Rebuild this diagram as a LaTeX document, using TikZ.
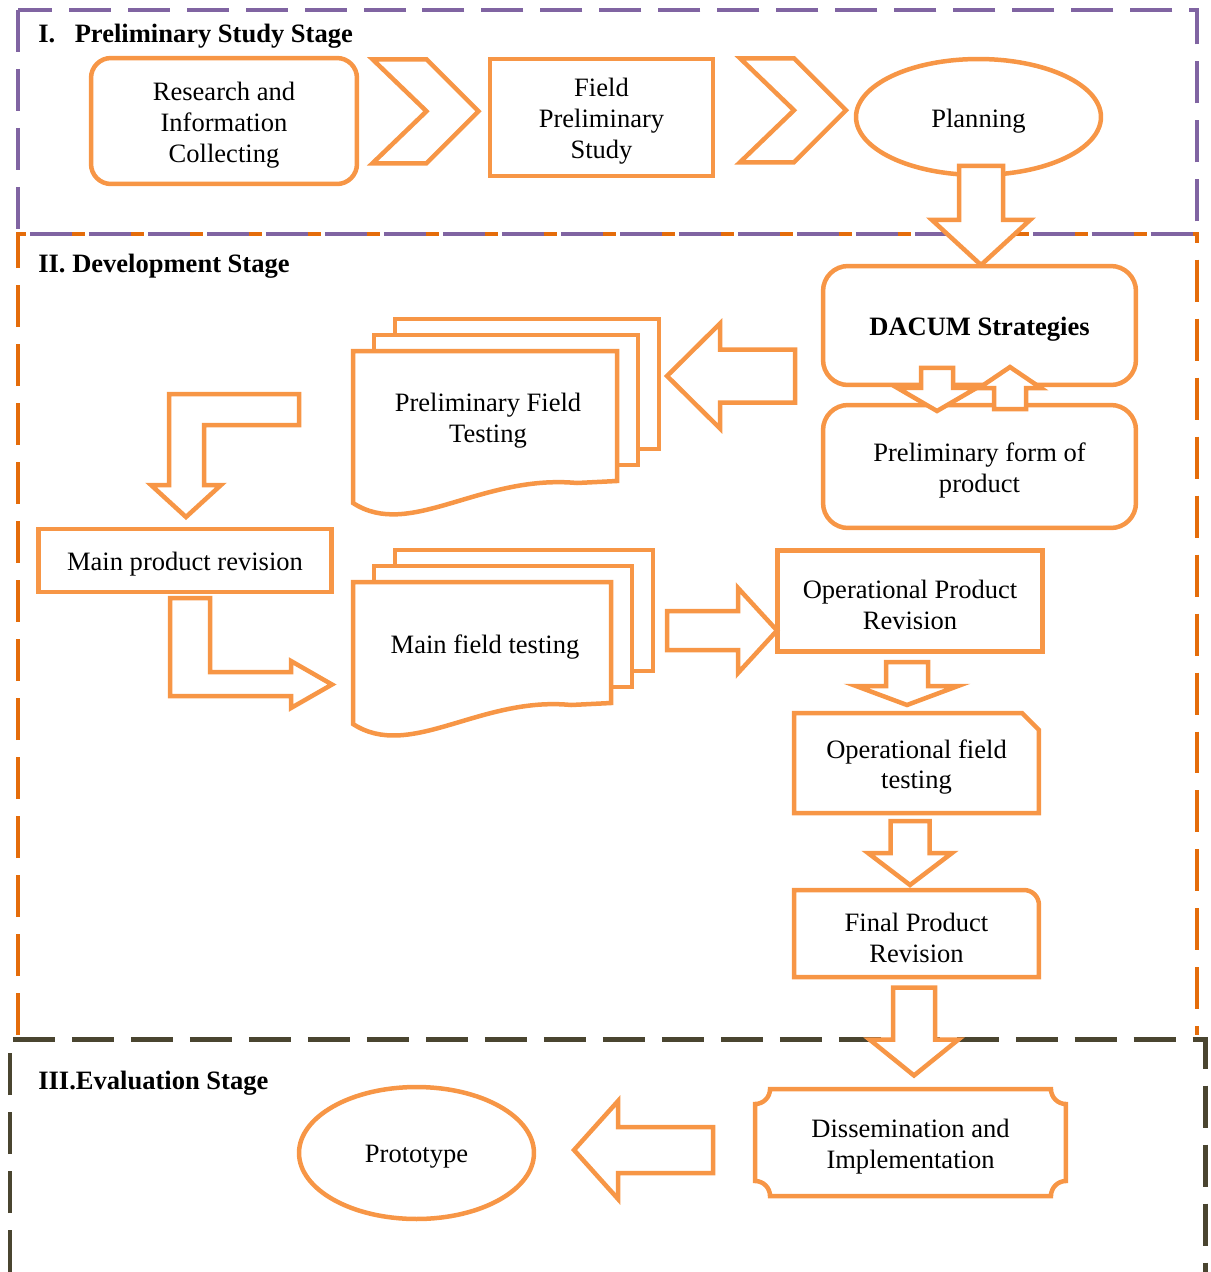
\documentclass[tikz,border=0pt]{standalone}
\usepackage{fontspec}
\setmainfont{Liberation Serif}
\usetikzlibrary{calc,shapes.geometric}
\definecolor{boxorange}{HTML}{F79646}
\definecolor{stagepurple}{HTML}{8064A2}
\definecolor{stageorange}{HTML}{E46C0A}
\definecolor{stageolive}{HTML}{4A4530}
\tikzset{
  every node/.style={font=\fontsize{15.1}{17.6}\selectfont},
  box/.style={draw=boxorange,line width=0.09cm,fill=white,line join=miter},
  outline/.style={draw=boxorange,line width=0.09cm},
  plainbox/.style={box,rectangle,outer sep=0pt},
  roundbox/.style={plainbox,rounded corners=0.45cm},
  ovalbox/.style={box,ellipse,outer sep=0pt},
  txt/.style={align=center,outer sep=0pt,inner sep=0pt},
  stagetitle/.style={anchor=west,inner sep=0pt,
    font=\fontsize{15.1}{17.6}\selectfont\bfseries},
  stageframe/.style={dash pattern=on 0.84cm off 0.34cm},
  pics/barrow/.style args={#1/#2/#3/#4}{code={
    \draw[box] (0,-#2) -- ({#1-#4},-#2) -- ({#1-#4},-#3) -- (#1,0)
      -- ({#1-#4},#3) -- ({#1-#4},#2) -- (0,#2) -- cycle;}},
  pics/chevron/.style={code={
    \draw[box] (-53,-52) -- (1,-52) -- (53,0) -- (1,52) -- (-53,52) -- (1,0) -- cycle;}}
}
% stacked pages: left, top, width, bottom-left y, bottom-right y
\newcommand\docstack[5]{%
  \draw[box] ({#1+42},{#2-32}) rectangle ({#1+#3+42},{#5-32});
  \draw[box] ({#1+21},{#2-16}) rectangle ({#1+#3+21},{#5-16});
  \draw[box] ({#1+#3},#5) -- ({#1+#3},#2) -- (#1,#2) -- (#1,#4)
    .. controls ({#1+57},{#4+37}) and ({#1+127},{#5-7}) .. ({#1+#3-40},{#5+2})
    -- cycle;}

\begin{document}
\begin{tikzpicture}[x=0.02cm,y=-0.02cm]
\useasboundingbox (0,0) rectangle (1211,1272);
% stages
\draw[stageframe,draw=stageorange,line width=0.07cm] (18,1035) -- (18,234) -- (1197,234) -- (1197,1035);
\draw[stageframe,draw=stagepurple,line width=0.08cm] (18,10) rectangle (1197,234);
\draw[stageframe,draw=stageolive,line width=0.1cm] (10,1272) -- (10,1039) -- (1205,1039) -- (1205,1272);
\node[stagetitle] (s1) at (38,36) {I.\hspace{0.39cm}Preliminary Study Stage};
\node[stagetitle] (s2) at (38,266) {II. Development Stage};
\node[stagetitle] (s3) at (38,1083) {III.Evaluation Stage};

% I. preliminary study
\node[roundbox,rounded corners=0.4cm,minimum width=5.32cm,minimum height=2.52cm] (res) at (224,121) {};
\node[txt] (res-t) at ($(res)+(0,4)$) {Research and\\Information\\Collecting};
\node[plainbox,minimum width=4.46cm,minimum height=2.34cm] (fps) at (601.5,117.5) {};
\node[txt] (fps-t) at ($(fps)+(0,4)$) {Field\\Preliminary\\Study};
\node[ovalbox,minimum width=4.9cm,minimum height=2.32cm] (plan) at (978.5,117) {};
\node[txt] (plan-t) at ($(plan)+(0,4)$) {Planning};
\pic at ($(res.east)!0.5!(fps.west)+(2,-8)$) {chevron};
\pic at ($(fps.east)!0.5!(plan.west)+(8.5,-7)$) {chevron};

% II. development
\node[roundbox,rounded corners=0.5cm,minimum width=6.26cm,minimum height=2.38cm] (dacum) at (979.5,325.5) {};
\node[txt,font=\fontsize{15.1}{17.6}\selectfont\bfseries] (dacum-t) at ($(dacum)+(0,4)$) {DACUM Strategies};
\node[roundbox,rounded corners=0.5cm,minimum width=6.26cm,minimum height=2.46cm] (form) at (979.5,466.5) {};
\node[txt] (form-t) at ($(form)+(0,4)$) {Preliminary form of\\product};
\docstack{353}{351}{264}{503}{481}
\node[txt] (pft) at (488,421) {Preliminary Field\\Testing};
\node[plainbox,minimum width=5.86cm,minimum height=1.26cm] (mpr) at (185,560.5) {};
\node[txt] (mpr-t) at ($(mpr)+(0,4)$) {Main product revision};
\docstack{353}{582}{258}{724}{703}
\node[txt] (mft) at (485,647) {Main field testing};
\node[plainbox,minimum width=5.3cm,minimum height=2.02cm] (opr) at (910,601) {};
\node[txt] (opr-t) at ($(opr)+(0,4)$) {Operational Product\\Revision};
\node[txt,minimum width=4.9cm,minimum height=2cm] (oft) at (916.5,763) {};
\node[txt] (oft-t) at ($(oft)+(0,4)$) {Operational field\\testing};
\draw[outline] (oft.south west) -- (oft.north west) -- ([xshift=-0.34cm]oft.north east)
  -- ([yshift=-0.34cm]oft.north east) -- (oft.south east) -- cycle;
\node[txt,minimum width=4.9cm,minimum height=1.74cm] (fpr) at (916.5,933.5) {};
\node[txt] (fpr-t) at ($(fpr)+(0,4)$) {Final Product\\Revision};
\draw[outline] (fpr.south west) -- (fpr.north west) -- ([xshift=-0.3cm]fpr.north east)
  arc[start angle=90,end angle=0,radius=0.3cm] -- (fpr.south east) -- cycle;

% III. evaluation
\node[txt,minimum width=6.22cm,minimum height=2.14cm] (diss) at (910.5,1142.5) {};
\node[txt] (diss-t) at ($(diss)+(0,4)$) {Dissemination and\\Implementation};
\draw[outline] ([xshift=0.3cm]diss.north west) -- ([xshift=-0.3cm]diss.north east)
  arc[start angle=180,end angle=270,radius=0.3cm] -- ([yshift=0.3cm]diss.south east)
  arc[start angle=90,end angle=180,radius=0.3cm] -- ([xshift=0.3cm]diss.south west)
  arc[start angle=0,end angle=90,radius=0.3cm] -- ([yshift=-0.3cm]diss.north west)
  arc[start angle=270,end angle=360,radius=0.3cm] -- cycle;
\node[ovalbox,minimum width=4.7cm,minimum height=2.64cm] (proto) at (416.5,1153) {};
\node[txt] (proto-t) at ($(proto)+(0,4)$) {Prototype};

% block arrows
\pic[rotate=-90] at ($(plan.south)+(2.5,-9)$) {barrow=99/22/49/45};
\pic[rotate=180] at ($(dacum.west)+(-28,50.5)$) {barrow=128/26.5/52.5/53};
\pic[rotate=-90] at ($(dacum.south)+(-42.5,-17)$) {barrow=43/16/39.5/23};
\pic[rotate=90] at ($(form.north)+(30.5,4)$) {barrow=42/16/31/21};
\draw[box] (299,394) -- (169,394) -- (169,485) -- (151,485) -- (186,517) -- (221,485)
  -- (204,485) -- (204,425) -- (299,425) -- cycle;
\draw[box] (170,598) -- (210,598) -- (210,672) -- (291,672) -- (291,661) -- (332,684.5)
  -- (291,708) -- (291,696) -- (170,696) -- cycle;
\pic at ($(opr.west)+(-110.5,29.5)$) {barrow=110/19.5/42.5/39};
\pic[rotate=-90] at ($(opr.south)+(-3,10.5)$) {barrow=43/21/51/19};
\pic[rotate=-90] at ($(oft.south)+(-6.5,8)$) {barrow=64/19.5/42/32};
\pic[rotate=-90] at ($(fpr.south)+(-2.5,10.5)$) {barrow=88/21/44.5/36};
\pic[rotate=180] at ($(diss.west)+(-42,7.5)$) {barrow=139/23/49/44};
\end{tikzpicture}
\end{document}
